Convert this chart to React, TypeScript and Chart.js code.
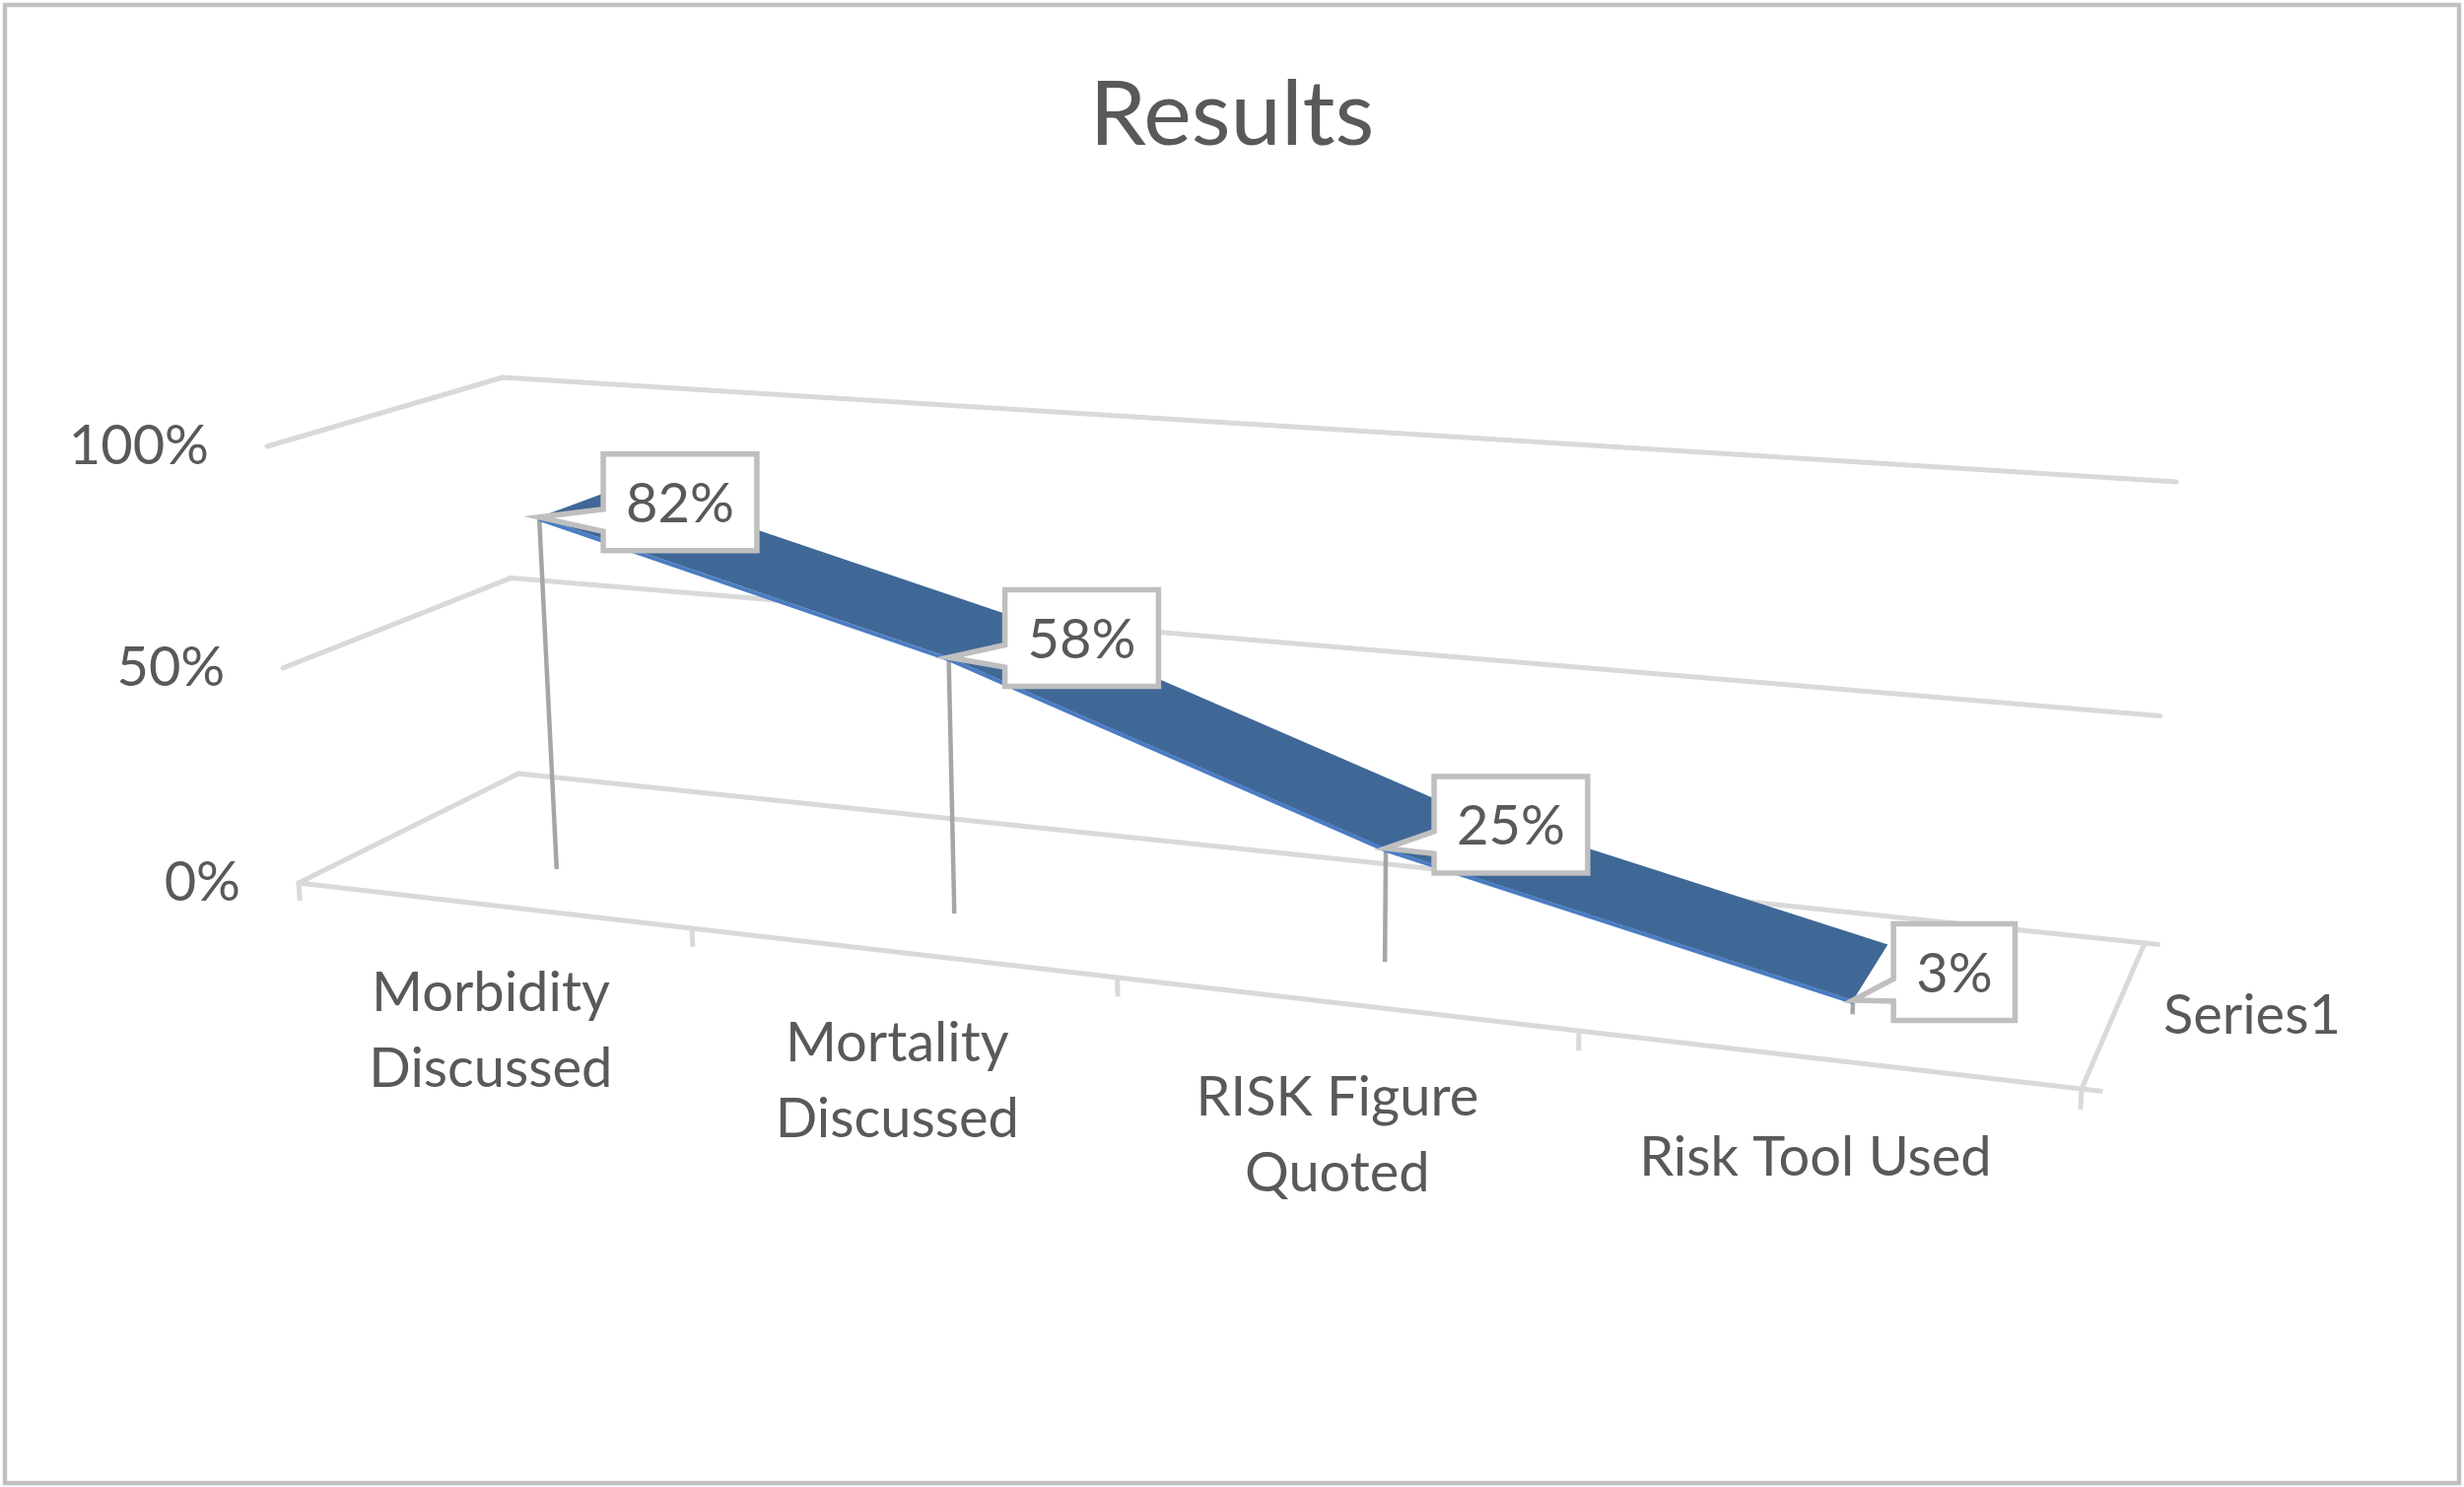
import { useEffect, useRef } from 'react';
import { Chart, registerables } from 'chart.js';

Chart.register(...registerables);

const categories = [['Morbidity', 'Discussed'], ['Mortality', 'Discussed'], ['RISK Figure', 'Quoted'], ['Risk Tool Used']];
const seriesName = 'Series1';
const values = [82, 58, 25, 3];
const yTicks = [0, 50, 100];
const yTickLabels = ['0%', '50%', '100%'];

const TEXT = '#595959';
const GRID = '#d9d9d9';
const FONT = 'Lato, "Open Sans", sans-serif';

// picture corners of the back wall and the front plane, order: u0v0, u1v0, u1v1, u0v1
const BACK = [[526, 785], [2176, 957], [2208, 489], [510, 383]];
const FRONT = [[303, 896], [2112, 1105], [2140, 588], [271, 453]];
const RIBBON_Z = [0.32, 0.72];

function quadMap(q: number[][]) {
  const [[x0, y0], [x1, y1], [x2, y2], [x3, y3]] = q;
  const dx1 = x1 - x2, dx2 = x3 - x2, dx3 = x0 - x1 + x2 - x3;
  const dy1 = y1 - y2, dy2 = y3 - y2, dy3 = y0 - y1 + y2 - y3;
  const den = dx1 * dy2 - dx2 * dy1;
  const g = (dx3 * dy2 - dx2 * dy3) / den;
  const h = (dx1 * dy3 - dx3 * dy1) / den;
  const a = x1 - x0 + g * x1, b = x3 - x0 + h * x3, c = x0;
  const d = y1 - y0 + g * y1, e = y3 - y0 + h * y3, f = y0;
  return (u: number, v: number) => {
    const w = g * u + h * v + 1;
    return [(a * u + b * v + c) / w, (d * u + e * v + f) / w];
  };
}

const front = quadMap(FRONT);
const back = quadMap(BACK);

// point in the box: u along categories, v up the value axis, z from front (0) to back wall (1)
function P(u: number, v: number, z: number) {
  const [fx, fy] = front(u, v);
  const [bx, by] = back(u, v);
  return { x: fx + (bx - fx) * z, y: fy + (by - fy) * z };
}

function line(ctx: CanvasRenderingContext2D, a: { x: number; y: number }, b: { x: number; y: number }) {
  ctx.beginPath();
  ctx.moveTo(a.x, a.y);
  ctx.lineTo(b.x, b.y);
  ctx.stroke();
}

const depthPlugin = {
  id: 'depth3d',
  beforeDraw(chart: any) {
    const ctx = chart.ctx;
    ctx.save();
    ctx.fillStyle = '#ffffff';
    ctx.fillRect(0, 0, chart.width, chart.height);
    ctx.strokeStyle = '#c0c0c0';
    ctx.lineWidth = 4.5;
    ctx.strokeRect(5, 5, chart.width - 10, chart.height - 9);
    ctx.restore();
  },
  afterDatasetsDraw(chart: any) {
    const ctx: CanvasRenderingContext2D = chart.ctx;
    const area = chart.chartArea;
    const xs = chart.scales.x;
    const ys = chart.scales.y;
    const normU = (px: number) => (px - area.left) / (area.right - area.left);
    const normV = (py: number) => (area.bottom - py) / (area.bottom - area.top);
    const [z0, z1] = RIBBON_Z;

    ctx.save();
    ctx.lineCap = 'round';
    ctx.lineJoin = 'round';

    // walls and floor
    ctx.strokeStyle = GRID;
    ctx.lineWidth = 5;
    yTicks.forEach((t) => {
      const v = normV(ys.getPixelForValue(t));
      line(ctx, P(0, v, 0), P(0, v, 1));
      line(ctx, P(0, v, 1), P(1, v, 1));
    });
    line(ctx, P(0, 0, 0), P(1, 0, 0));
    line(ctx, P(1, 0, 0), P(1, 0, 1));

    // category ticks on the front edge
    const centers = categories.map((_, i) => normU(xs.getPixelForValue(i)));
    const bounds = [0];
    for (let i = 1; i < centers.length; i++) bounds.push((centers[i - 1] + centers[i]) / 2);
    bounds.push(1);
    ctx.lineCap = 'butt';
    bounds.forEach((u) => line(ctx, P(u, 0, 0), P(u, -0.042, 0)));
    line(ctx, P(1, 0, 0), P(1.01, 0, 0));
    line(ctx, P(1, 0, 1), P(1.008, 0, 1));

    // axis text
    ctx.fillStyle = TEXT;
    ctx.font = `56px ${FONT}`;
    ctx.textBaseline = 'middle';
    ctx.textAlign = 'right';
    yTicks.forEach((t, i) => {
      const p = P(0, normV(ys.getPixelForValue(t)), 0);
      ctx.fillText(yTickLabels[i], p.x - 59, p.y);
    });
    ctx.textAlign = 'center';
    categories.forEach((lines, i) => {
      const p = P(centers[i], -0.205, 0);
      lines.forEach((s, k) => ctx.fillText(s, p.x - 6, p.y + k * 77));
    });
    ctx.textAlign = 'left';
    const sp = P(1, 0, 0.5);
    ctx.fillText(seriesName, sp.x + 51, sp.y);

    // ribbon edges
    const meta = chart.getDatasetMeta(0);
    const uv = meta.data.map((pt: any) => [normU(pt.x), normV(pt.y)]);
    const F = uv.map(([u, v]: number[]) => P(u, v, z0));
    const B = uv.map(([u, v]: number[]) => P(u, v, z1));

    // leader lines down to the floor
    ctx.strokeStyle = '#a6a6a6';
    ctx.lineWidth = 4.5;
    uv.forEach(([u]: number[], i: number) => line(ctx, F[i], P(u, 0, z0)));

    ctx.beginPath();
    F.forEach((p: any, i: number) => (i ? ctx.lineTo(p.x, p.y) : ctx.moveTo(p.x, p.y)));
    for (let i = B.length - 1; i >= 0; i--) ctx.lineTo(B[i].x, B[i].y);
    ctx.closePath();
    ctx.fillStyle = '#3f6897';
    ctx.fill();
    ctx.beginPath();
    F.forEach((p: any, i: number) => (i ? ctx.lineTo(p.x, p.y + 2) : ctx.moveTo(p.x, p.y + 2)));
    ctx.strokeStyle = '#4a7cc2';
    ctx.lineWidth = 4;
    ctx.stroke();

    // callout labels
    ctx.font = `56px ${FONT}`;
    ctx.lineJoin = 'miter';
    values.forEach((val, i) => {
      const tip = F[i];
      const text = `${val}%`;
      const w = ctx.measureText(text).width + 46;
      const h = 98;
      const left = tip.x + 65 - 8 * i;
      const top = tip.y - 15 - 4.5 * i - h / 2;
      ctx.beginPath();
      ctx.moveTo(left, top);
      ctx.lineTo(left + w, top);
      ctx.lineTo(left + w, top + h);
      ctx.lineTo(left, top + h);
      ctx.lineTo(left, top + h * 0.8);
      ctx.lineTo(tip.x, tip.y);
      ctx.lineTo(left, top + h * 0.57);
      ctx.closePath();
      ctx.fillStyle = '#ffffff';
      ctx.fill();
      ctx.strokeStyle = '#bfbfbf';
      ctx.lineWidth = 5.5;
      ctx.stroke();
      ctx.fillStyle = TEXT;
      ctx.textAlign = 'center';
      ctx.fillText(text, left + w / 2, top + h / 2 + 2);
    });
    ctx.restore();
  },
};

export default function App() {
  const canvasRef = useRef<HTMLCanvasElement | null>(null);
  const chartRef = useRef<Chart | null>(null);

  useEffect(() => {
    document.body.style.margin = '0';
    if (!canvasRef.current) return;
    if (chartRef.current) chartRef.current.destroy();

    chartRef.current = new Chart(canvasRef.current, {
      type: 'line',
      data: {
        labels: categories,
        datasets: [
          {
            label: seriesName,
            data: values,
            showLine: false,
            pointRadius: 0,
            borderWidth: 0,
          },
        ],
      },
      options: {
        responsive: true,
        maintainAspectRatio: false,
        animation: false,
        layout: { padding: 0 },
        plugins: {
          legend: { display: false },
          tooltip: { enabled: false },
          title: {
            display: true,
            text: 'Results',
            color: TEXT,
            font: { family: FONT, size: 92, weight: 'normal' },
            padding: { top: 62, bottom: 20 },
          },
        },
        scales: {
          x: { type: 'category', offset: true, display: false },
          y: { min: 0, max: 100, display: false },
        },
      },
      plugins: [depthPlugin],
    });

    return () => {
      chartRef.current?.destroy();
      chartRef.current = null;
    };
  }, []);

  return (
    <div style={{ position: 'relative', width: 2500, height: 1509 }}>
      <canvas ref={canvasRef} />
    </div>
  );
}
